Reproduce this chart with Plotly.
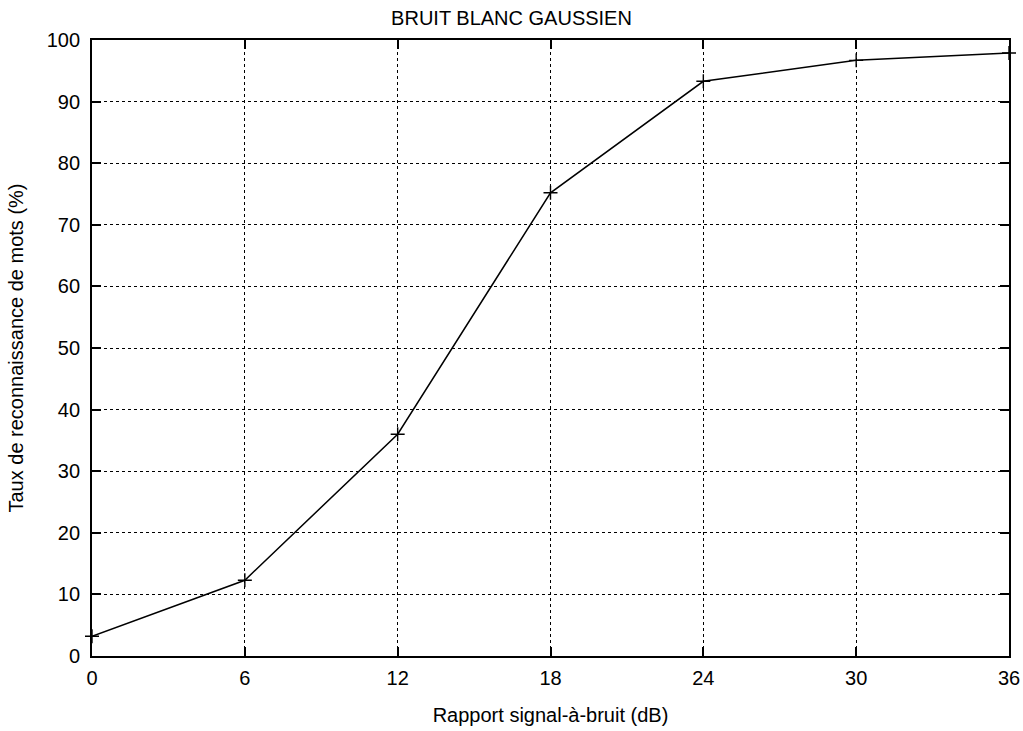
import plotly.graph_objects as go

snr_db = [0, 6, 12, 18, 24, 30, 36]
taux = [3.2, 12.3, 36.0, 75.2, 93.3, 96.7, 97.9]
x_ticks = [0, 6, 12, 18, 24, 30, 36]
y_ticks = [0, 10, 20, 30, 40, 50, 60, 70, 80, 90, 100]

FONT = "Liberation Sans, Arial, sans-serif"

fig = go.Figure()
fig.add_trace(go.Scatter(
    x=snr_db, y=taux, mode="lines+markers",
    line=dict(color="black", width=1.5),
    marker=dict(symbol="cross-thin", size=10, line=dict(color="black", width=1.4)),
    showlegend=False, cliponaxis=False,
))

axis_common = dict(
    showline=True, linecolor="black", linewidth=1.8, mirror="allticks",
    ticks="inside", ticklen=9, tickwidth=1.5, tickcolor="black",
    showgrid=True, gridcolor="black", griddash="dot", gridwidth=1,
    zeroline=False, automargin=False, ticklabeloverflow="allow",
    tickfont=dict(family=FONT, size=20, color="black"),
)

fig.update_xaxes(range=[0, 36], tickvals=x_ticks, **axis_common, ticklabelstandoff=3,
                 title=dict(text="Rapport signal-à-bruit (dB)", standoff=20,
                            font=dict(family=FONT, size=20, color="black")))
fig.update_yaxes(range=[0, 100], tickvals=y_ticks, **axis_common, ticklabelstandoff=6,
                 title=dict(text="Taux de reconnaissance de mots (%)", standoff=18,
                            font=dict(family=FONT, size=20, color="black")))

fig.update_layout(
    width=1023, height=731,
    margin=dict(l=92, r=14, t=40, b=75),
    paper_bgcolor="white", plot_bgcolor="white",
    title=dict(text="BRUIT BLANC GAUSSIEN", x=0.5, xanchor="center", y=0.975, yanchor="middle",
               font=dict(family=FONT, size=20, color="black")),
)

fig.write_html("out.html", config={"displayModeBar": False},
               post_script="document.body.style.margin='0';document.body.style.overflow='hidden';")
